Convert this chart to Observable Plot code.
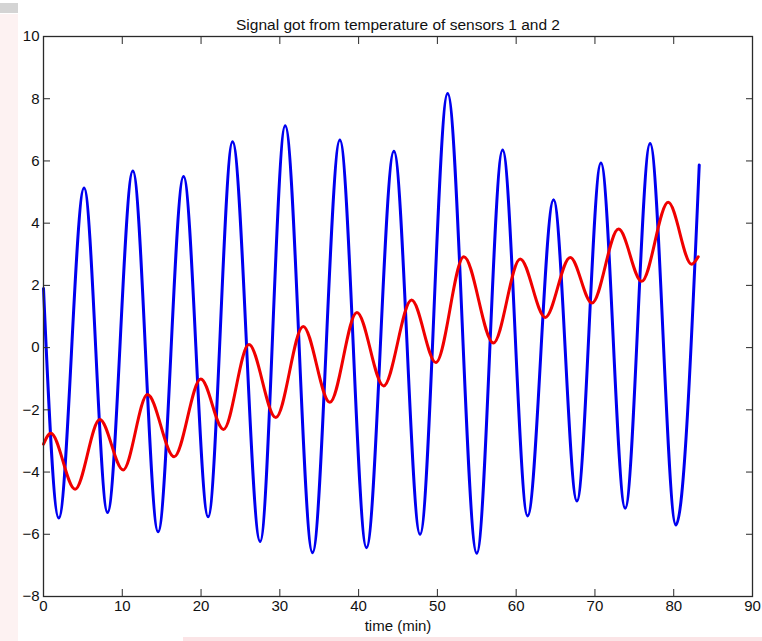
<!DOCTYPE html>
<html>
<head>
<meta charset="utf-8">
<script src="https://cdn.jsdelivr.net/npm/d3@7"></script>
<script src="https://cdn.jsdelivr.net/npm/@observablehq/plot@0.6"></script>
<style>
  html, body { margin: 0; padding: 0; background: #ffffff; }
  #wrap { position: relative; width: 762px; height: 641px; overflow: hidden; }
  #leftstrip { position: absolute; left: 0; top: 14px; width: 18px; height: 627px; background: #fdf2f2; }
  #topbar { position: absolute; left: 0; top: 3px; width: 18px; height: 10px; background: #d4d4d4; }
  #botstrip { position: absolute; left: 183px; top: 637px; width: 579px; height: 4px; background: #fbe4e6; }
  #chart { position: absolute; left: 0; top: 0; }
</style>
</head>
<body>
<div id="wrap">
  <div id="leftstrip"></div>
  <div id="topbar"></div>
  <div id="botstrip"></div>
  <div id="chart"></div>
</div>
<script>
const titleText = "Signal got from temperature of sensors 1 and 2";
const xLabel = "time (min)";
const xTicks = [0, 10, 20, 30, 40, 50, 60, 70, 80, 90];
const yTicks = [-8, -6, -4, -2, 0, 2, 4, 6, 8, 10];

// Sensor 1 (blue): times and values of the extrema
const blueTime = [0, 1.94, 5.15, 8.13, 11.34, 14.55, 17.78, 20.9, 24.0, 27.5, 30.68, 34.15, 37.62, 41.0, 44.48, 47.8, 51.3, 55.0, 58.28, 61.45, 64.75, 67.71, 70.76, 73.84, 77.0, 80.28, 83.24];
const blueValue = [1.9, -5.48, 5.13, -5.3, 5.68, -5.92, 5.5, -5.44, 6.62, -6.23, 7.13, -6.59, 6.67, -6.43, 6.31, -6.0, 8.17, -6.61, 6.35, -5.41, 4.75, -4.93, 5.93, -5.16, 6.56, -5.7, 5.87];

// Sensor 2 (red)
const redTime = [0, 0.93, 4.01, 7.15, 10.11, 13.2, 16.58, 19.97, 22.85, 26.07, 29.49, 32.96, 36.35, 39.78, 43.17, 46.72, 49.81, 53.36, 57.11, 60.51, 63.69, 66.86, 69.62, 73.0, 75.93, 79.3, 82.27, 83.11];
const redValue = [-3.1, -2.75, -4.55, -2.31, -3.93, -1.51, -3.51, -1.01, -2.63, 0.1, -2.25, 0.68, -1.76, 1.13, -1.23, 1.53, -0.48, 2.92, 0.15, 2.85, 0.97, 2.9, 1.43, 3.81, 2.13, 4.67, 2.68, 2.92];

const blue = blueTime.map((t, i) => ({t, v: blueValue[i]}));
const red = redTime.map((t, i) => ({t, v: redValue[i]}));

const font = "'Liberation Sans', Arial, Helvetica, sans-serif";
const axisColor = "#2a2a2a";

const chart = Plot.plot({
  width: 762,
  height: 641,
  marginLeft: 43,
  marginRight: 10,
  marginTop: 36,
  marginBottom: 45,
  style: {fontFamily: font, fontSize: "15px", background: "transparent", color: "#111"},
  x: {domain: [0, 90]},
  y: {domain: [-8, 10]},
  marks: [
    Plot.line(blue, {x: "t", y: "v", stroke: "#0000f0", strokeWidth: 3, curve: "monotone-x"}),
    Plot.line(red, {x: "t", y: "v", stroke: "#f00000", strokeWidth: 3, curve: "monotone-x"}),
    Plot.frame({stroke: axisColor, strokeWidth: 1.3}),
    Plot.axisX(xTicks, {anchor: "bottom", tickSize: -7, tickPadding: 11, stroke: axisColor, fontSize: 15, label: null}),
    Plot.axisX(xTicks, {anchor: "top", tickSize: -7, tickFormat: () => "", stroke: axisColor, label: null}),
    Plot.axisY(yTicks, {anchor: "left", tickSize: -7, tickPadding: 11, stroke: axisColor, fontSize: 15, label: null}),
    Plot.axisY(yTicks, {anchor: "right", tickSize: -7, tickFormat: () => "", stroke: axisColor, label: null}),
    Plot.text([titleText], {frameAnchor: "top", dy: -18, fontSize: 15.5, fill: "#111"}),
    Plot.text([xLabel], {frameAnchor: "bottom", dy: 34, fontSize: 15, fill: "#111"})
  ]
});
document.getElementById("chart").appendChild(chart);
</script>
</body>
</html>
